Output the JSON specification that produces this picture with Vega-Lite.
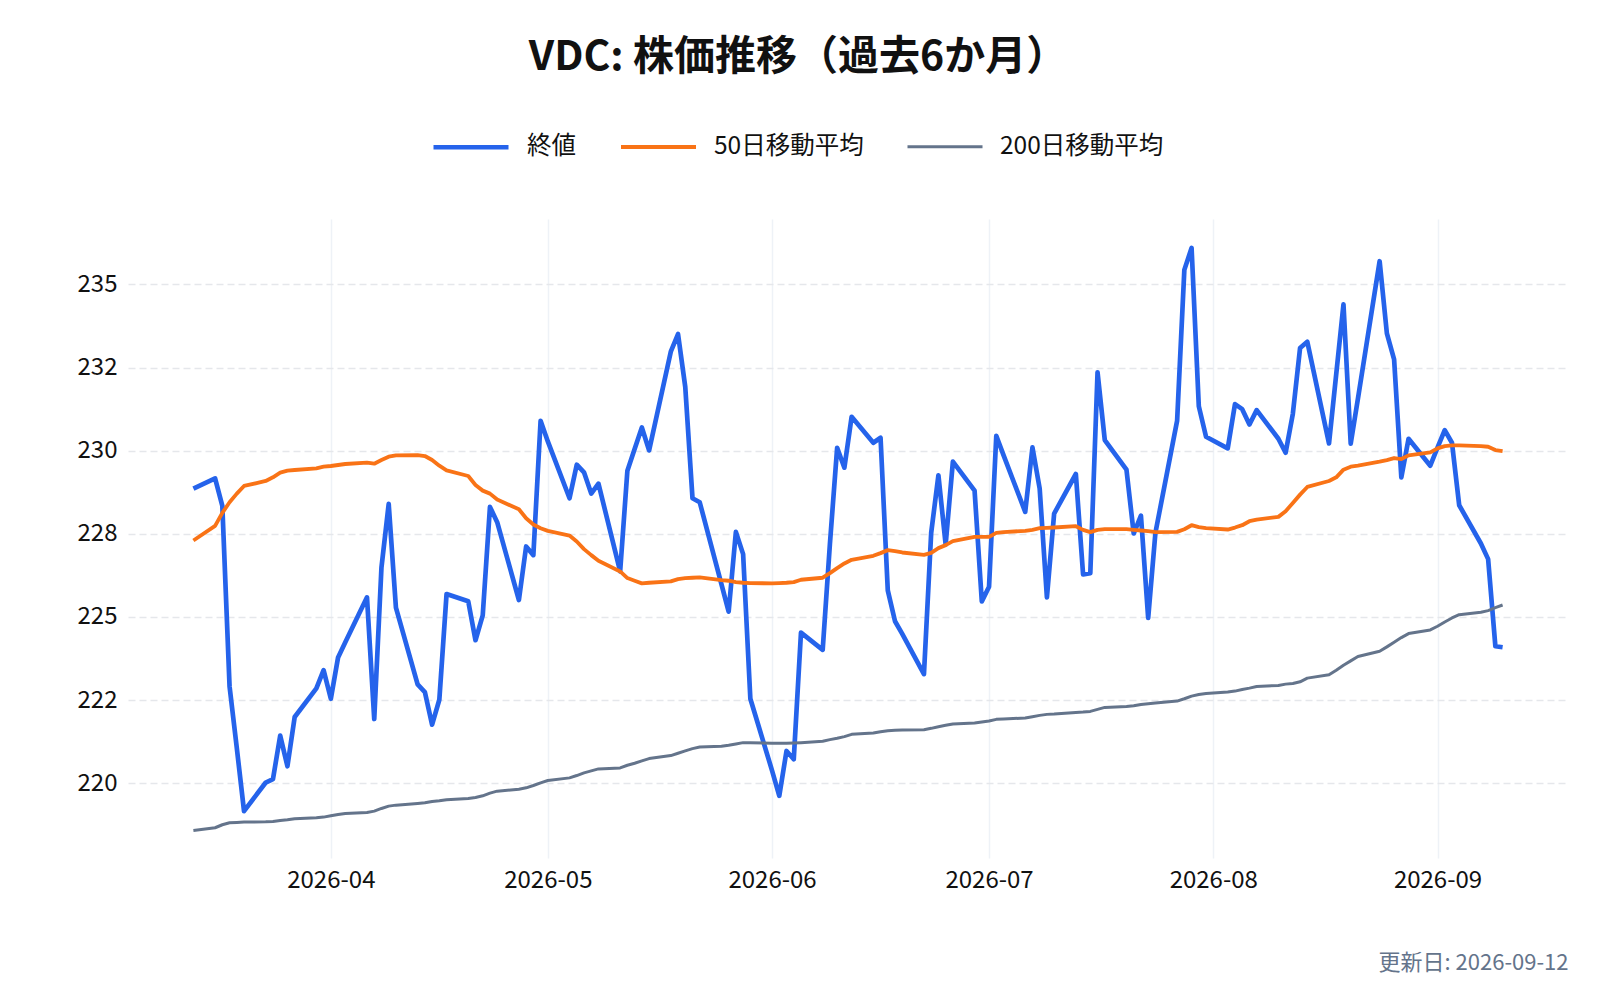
{
  "$schema": "https://vega.github.io/schema/vega-lite/v6.json",
  "width": 1440,
  "height": 639,
  "autosize": {"type": "none"},
  "padding": {"left": 128, "top": 219, "right": 32, "bottom": 142},
  "background": "white",
  "config": {
    "font": "Noto Sans CJK JP",
    "view": {"stroke": null}
  },
  "title": {
    "text": "VDC: 株価推移（過去6か月）",
    "fontSize": 41,
    "fontWeight": "bold",
    "color": "#111111",
    "anchor": "middle",
    "offset": 28,
    "dx": -50
  },
  "data": {
    "values": [
      {"date": "2026-03-13", "終値": 228.86, "50日移動平均": 227.30, "200日移動平均": 218.58},
      {"date": "2026-03-16", "終値": 229.17, "50日移動平均": 227.74, "200日移動平均": 218.66},
      {"date": "2026-03-17", "終値": 228.34, "50日移動平均": 228.13, "200日移動平均": 218.75},
      {"date": "2026-03-18", "終値": 222.91, "50日移動平均": 228.45, "200日移動平均": 218.81},
      {"date": "2026-03-19", "終値": 221.06, "50日移動平均": 228.71, "200日移動平均": 218.82},
      {"date": "2026-03-20", "終値": 219.16, "50日移動平均": 228.94, "200日移動平均": 218.83},
      {"date": "2026-03-23", "終値": 220.02, "50日移動平均": 229.09, "200日移動平均": 218.84},
      {"date": "2026-03-24", "終値": 220.12, "50日移動平均": 229.20, "200日移動平均": 218.85},
      {"date": "2026-03-25", "終値": 221.43, "50日移動平均": 229.34, "200日移動平均": 218.88},
      {"date": "2026-03-26", "終値": 220.51, "50日移動平均": 229.40, "200日移動平均": 218.90},
      {"date": "2026-03-27", "終値": 221.99, "50日移動平均": 229.42, "200日移動平均": 218.93},
      {"date": "2026-03-30", "終値": 222.85, "50日移動平均": 229.47, "200日移動平均": 218.96},
      {"date": "2026-03-31", "終値": 223.40, "50日移動平均": 229.52, "200日移動平均": 218.98},
      {"date": "2026-04-01", "終値": 222.54, "50日移動平均": 229.54, "200日移動平均": 219.02},
      {"date": "2026-04-02", "終値": 223.78, "50日移動平均": 229.57, "200日移動平均": 219.06},
      {"date": "2026-04-03", "終値": 224.24, "50日移動平均": 229.60, "200日移動平均": 219.09},
      {"date": "2026-04-06", "終値": 225.59, "50日移動平均": 229.64, "200日移動平均": 219.12},
      {"date": "2026-04-07", "終値": 221.93, "50日移動平均": 229.61, "200日移動平均": 219.16},
      {"date": "2026-04-08", "終値": 226.49, "50日移動平均": 229.72, "200日移動平均": 219.24},
      {"date": "2026-04-09", "終値": 228.40, "50日移動平均": 229.82, "200日移動平均": 219.31},
      {"date": "2026-04-10", "終値": 225.28, "50日移動平均": 229.86, "200日移動平均": 219.34},
      {"date": "2026-04-13", "終値": 222.97, "50日移動平均": 229.87, "200日移動平均": 219.39},
      {"date": "2026-04-14", "終値": 222.74, "50日移動平均": 229.84, "200日移動平均": 219.41},
      {"date": "2026-04-15", "終値": 221.76, "50日移動平均": 229.72, "200日移動平均": 219.45},
      {"date": "2026-04-16", "終値": 222.51, "50日移動平均": 229.55, "200日移動平均": 219.47},
      {"date": "2026-04-17", "終値": 225.69, "50日移動平均": 229.41, "200日移動平均": 219.50},
      {"date": "2026-04-20", "終値": 225.47, "50日移動平均": 229.24, "200日移動平均": 219.54},
      {"date": "2026-04-21", "終値": 224.30, "50日移動平均": 228.97, "200日移動平均": 219.57},
      {"date": "2026-04-22", "終値": 225.05, "50日移動平均": 228.80, "200日移動平均": 219.62},
      {"date": "2026-04-23", "終値": 228.31, "50日移動平均": 228.71, "200日移動平均": 219.70},
      {"date": "2026-04-24", "終値": 227.85, "50日移動平均": 228.53, "200日移動平均": 219.76},
      {"date": "2026-04-27", "終値": 225.51, "50日移動平均": 228.24, "200日移動平均": 219.82},
      {"date": "2026-04-28", "終値": 227.12, "50日移動平均": 227.97, "200日移動平均": 219.86},
      {"date": "2026-04-29", "終値": 226.86, "50日移動平均": 227.78, "200日移動平均": 219.93},
      {"date": "2026-04-30", "終値": 230.90, "50日移動平均": 227.67, "200日移動平均": 220.01},
      {"date": "2026-05-01", "終値": 230.28, "50日移動平均": 227.59, "200日移動平均": 220.08},
      {"date": "2026-05-04", "終値": 228.57, "50日移動平均": 227.45, "200日移動平均": 220.16},
      {"date": "2026-05-05", "終値": 229.58, "50日移動平均": 227.27, "200日移動平均": 220.23},
      {"date": "2026-05-06", "終値": 229.35, "50日移動平均": 227.04, "200日移動平均": 220.31},
      {"date": "2026-05-07", "終値": 228.71, "50日移動平均": 226.86, "200日移動平均": 220.37},
      {"date": "2026-05-08", "終値": 229.01, "50日移動平均": 226.69, "200日移動平均": 220.43},
      {"date": "2026-05-11", "終値": 226.37, "50日移動平均": 226.37, "200日移動平均": 220.46},
      {"date": "2026-05-12", "終値": 229.40, "50日移動平均": 226.17, "200日移動平均": 220.54},
      {"date": "2026-05-13", "終値": 230.05, "50日移動平均": 226.09, "200日移動平均": 220.60},
      {"date": "2026-05-14", "終値": 230.70, "50日移動平均": 226.01, "200日移動平均": 220.67},
      {"date": "2026-05-15", "終値": 230.01, "50日移動平均": 226.03, "200日移動平均": 220.74},
      {"date": "2026-05-18", "終値": 232.98, "50日移動平均": 226.07, "200日移動平均": 220.83},
      {"date": "2026-05-19", "終値": 233.51, "50日移動平均": 226.14, "200日移動平均": 220.90},
      {"date": "2026-05-20", "終値": 231.92, "50日移動平均": 226.17, "200日移動平均": 220.97},
      {"date": "2026-05-21", "終値": 228.57, "50日移動平均": 226.18, "200日移動平均": 221.04},
      {"date": "2026-05-22", "終値": 228.45, "50日移動平均": 226.19, "200日移動平均": 221.09},
      {"date": "2026-05-25", "終値": 225.99, "50日移動平均": 226.11, "200日移動平均": 221.11},
      {"date": "2026-05-26", "終値": 225.16, "50日移動平均": 226.09, "200日移動平均": 221.14},
      {"date": "2026-05-27", "終値": 227.56, "50日移動平均": 226.05, "200日移動平均": 221.18},
      {"date": "2026-05-28", "終値": 226.89, "50日移動平均": 226.03, "200日移動平均": 221.22},
      {"date": "2026-05-29", "終値": 222.54, "50日移動平均": 226.02, "200日移動平均": 221.22},
      {"date": "2026-06-01", "終値": 220.38, "50日移動平均": 226.01, "200日移動平均": 221.20},
      {"date": "2026-06-02", "終値": 219.62, "50日移動平均": 226.02, "200日移動平均": 221.20},
      {"date": "2026-06-03", "終値": 220.97, "50日移動平均": 226.03, "200日移動平均": 221.20},
      {"date": "2026-06-04", "終値": 220.72, "50日移動平均": 226.05, "200日移動平均": 221.21},
      {"date": "2026-06-05", "終値": 224.53, "50日移動平均": 226.12, "200日移動平均": 221.22},
      {"date": "2026-06-08", "終値": 224.01, "50日移動平均": 226.18, "200日移動平均": 221.26},
      {"date": "2026-06-09", "終値": 227.20, "50日移動平均": 226.32, "200日移動平均": 221.31},
      {"date": "2026-06-10", "終値": 230.09, "50日移動平均": 226.47, "200日移動平均": 221.35},
      {"date": "2026-06-11", "終値": 229.49, "50日移動平均": 226.61, "200日移動平均": 221.40},
      {"date": "2026-06-12", "終値": 231.02, "50日移動平均": 226.72, "200日移動平均": 221.47},
      {"date": "2026-06-15", "終値": 230.24, "50日移動平均": 226.84, "200日移動平均": 221.51},
      {"date": "2026-06-16", "終値": 230.39, "50日移動平均": 226.92, "200日移動平均": 221.55},
      {"date": "2026-06-17", "終値": 225.80, "50日移動平均": 227.01, "200日移動平均": 221.58},
      {"date": "2026-06-18", "終値": 224.87, "50日移動平均": 226.98, "200日移動平均": 221.59},
      {"date": "2026-06-19", "終値": 224.49, "50日移動平均": 226.94, "200日移動平均": 221.60},
      {"date": "2026-06-22", "終値": 223.28, "50日移動平均": 226.87, "200日移動平均": 221.61},
      {"date": "2026-06-23", "終値": 227.53, "50日移動平均": 226.93, "200日移動平均": 221.65},
      {"date": "2026-06-24", "終値": 229.26, "50日移動平均": 227.07, "200日移動平均": 221.70},
      {"date": "2026-06-25", "終値": 227.18, "50日移動平均": 227.16, "200日移動平均": 221.74},
      {"date": "2026-06-26", "終値": 229.67, "50日移動平均": 227.28, "200日移動平均": 221.78},
      {"date": "2026-06-29", "終値": 228.80, "50日移動平均": 227.41, "200日移動平均": 221.81},
      {"date": "2026-06-30", "終値": 225.47, "50日移動平均": 227.41, "200日移動平均": 221.84},
      {"date": "2026-07-01", "終値": 225.91, "50日移動平均": 227.41, "200日移動平均": 221.87},
      {"date": "2026-07-02", "終値": 230.45, "50日移動平均": 227.53, "200日移動平均": 221.92},
      {"date": "2026-07-03", "終値": 229.87, "50日移動平均": 227.55, "200日移動平均": 221.93},
      {"date": "2026-07-06", "終値": 228.16, "50日移動平均": 227.59, "200日移動平均": 221.96},
      {"date": "2026-07-07", "終値": 230.10, "50日移動平均": 227.62, "200日移動平均": 222.00},
      {"date": "2026-07-08", "終値": 228.86, "50日移動平均": 227.67, "200日移動平均": 222.04},
      {"date": "2026-07-09", "終値": 225.59, "50日移動平均": 227.68, "200日移動平均": 222.07},
      {"date": "2026-07-10", "終値": 228.11, "50日移動平均": 227.69, "200日移動平均": 222.08},
      {"date": "2026-07-13", "終値": 229.30, "50日移動平均": 227.73, "200日移動平均": 222.13},
      {"date": "2026-07-14", "終値": 226.28, "50日移動平均": 227.62, "200日移動平均": 222.14},
      {"date": "2026-07-15", "終値": 226.32, "50日移動平均": 227.55, "200日移動平均": 222.16},
      {"date": "2026-07-16", "終値": 232.36, "50日移動平均": 227.62, "200日移動平均": 222.22},
      {"date": "2026-07-17", "終値": 230.32, "50日移動平均": 227.64, "200日移動平均": 222.28},
      {"date": "2026-07-20", "終値": 229.43, "50日移動平均": 227.64, "200日移動平均": 222.31},
      {"date": "2026-07-21", "終値": 227.51, "50日移動平均": 227.62, "200日移動平均": 222.33},
      {"date": "2026-07-22", "終値": 228.05, "50日移動平均": 227.60, "200日移動平均": 222.37},
      {"date": "2026-07-23", "終値": 224.97, "50日移動平均": 227.58, "200日移動平均": 222.39},
      {"date": "2026-07-24", "終値": 227.53, "50日移動平均": 227.55, "200日移動平均": 222.41},
      {"date": "2026-07-27", "終値": 230.90, "50日移動平均": 227.56, "200日移動平均": 222.47},
      {"date": "2026-07-28", "終値": 235.44, "50日移動平均": 227.64, "200日移動平均": 222.54},
      {"date": "2026-07-29", "終値": 236.10, "50日移動平均": 227.76, "200日移動平均": 222.62},
      {"date": "2026-07-30", "終値": 231.34, "50日移動平均": 227.70, "200日移動平均": 222.67},
      {"date": "2026-07-31", "終値": 230.42, "50日移動平均": 227.67, "200日移動平均": 222.70},
      {"date": "2026-08-03", "終値": 230.07, "50日移動平均": 227.63, "200日移動平均": 222.74},
      {"date": "2026-08-04", "終値": 231.40, "50日移動平均": 227.69, "200日移動平均": 222.77},
      {"date": "2026-08-05", "終値": 231.25, "50日移動平均": 227.76, "200日移動平均": 222.82},
      {"date": "2026-08-06", "終値": 230.79, "50日移動平均": 227.88, "200日移動平均": 222.86},
      {"date": "2026-08-07", "終値": 231.22, "50日移動平均": 227.93, "200日移動平均": 222.91},
      {"date": "2026-08-10", "終値": 230.36, "50日移動平均": 228.01, "200日移動平均": 222.94},
      {"date": "2026-08-11", "終値": 229.94, "50日移動平均": 228.18, "200日移動平均": 222.98},
      {"date": "2026-08-12", "終値": 231.11, "50日移動平均": 228.43, "200日移動平均": 223.00},
      {"date": "2026-08-13", "終値": 233.09, "50日移動平均": 228.68, "200日移動平均": 223.05},
      {"date": "2026-08-14", "終値": 233.28, "50日移動平均": 228.91, "200日移動平均": 223.16},
      {"date": "2026-08-17", "終値": 230.22, "50日移動平均": 229.09, "200日移動平均": 223.26},
      {"date": "2026-08-18", "終値": 232.31, "50日移動平均": 229.20, "200日移動平均": 223.40},
      {"date": "2026-08-19", "終値": 234.40, "50日移動平均": 229.43, "200日移動平均": 223.55},
      {"date": "2026-08-20", "終値": 230.21, "50日移動平均": 229.52, "200日移動平均": 223.68},
      {"date": "2026-08-21", "終値": 231.57, "50日移動平均": 229.55, "200日移動平均": 223.81},
      {"date": "2026-08-24", "終値": 235.70, "50日移動平均": 229.67, "200日移動平均": 223.97},
      {"date": "2026-08-25", "終値": 233.53, "50日移動平均": 229.72, "200日移動平均": 224.10},
      {"date": "2026-08-26", "終値": 232.75, "50日移動平均": 229.78, "200日移動平均": 224.24},
      {"date": "2026-08-27", "終値": 229.20, "50日移動平均": 229.75, "200日移動平均": 224.38},
      {"date": "2026-08-28", "終値": 230.36, "50日移動平均": 229.86, "200日移動平均": 224.50},
      {"date": "2026-08-31", "終値": 229.55, "50日移動平均": 229.95, "200日移動平均": 224.61},
      {"date": "2026-09-01", "終値": 230.09, "50日移動平均": 230.07, "200日移動平均": 224.72},
      {"date": "2026-09-02", "終値": 230.62, "50日移動平均": 230.14, "200日移動平均": 224.85},
      {"date": "2026-09-03", "終値": 230.24, "50日移動平均": 230.16, "200日移動平均": 224.97},
      {"date": "2026-09-04", "終値": 228.36, "50日移動平均": 230.16, "200日移動平均": 225.07},
      {"date": "2026-09-07", "終値": 227.21, "50日移動平均": 230.14, "200日移動平均": 225.14},
      {"date": "2026-09-08", "終値": 226.74, "50日移動平均": 230.12, "200日移動平均": 225.19},
      {"date": "2026-09-09", "終値": 224.12, "50日移動平均": 230.02, "200日移動平均": 225.28},
      {"date": "2026-09-10", "終値": 224.09, "50日移動平均": 229.99, "200日移動平均": 225.36}
    ]
  },
  "transform": [
    {"fold": ["終値", "50日移動平均", "200日移動平均"], "as": ["series", "price"]}
  ],
  "mark": {"type": "line", "strokeJoin": "round"},
  "encoding": {
    "x": {
      "field": "date",
      "type": "temporal",
      "scale": {
        "type": "utc",
        "domain": [
          {"year": 2026, "month": 3, "date": 3, "hours": 23, "utc": true},
          {"year": 2026, "month": 9, "date": 19, "hours": 1, "utc": true}
        ]
      },
      "axis": {
        "values": [
          {"year": 2026, "month": 4, "date": 1, "utc": true},
          {"year": 2026, "month": 5, "date": 1, "utc": true},
          {"year": 2026, "month": 6, "date": 1, "utc": true},
          {"year": 2026, "month": 7, "date": 1, "utc": true},
          {"year": 2026, "month": 8, "date": 1, "utc": true},
          {"year": 2026, "month": 9, "date": 1, "utc": true}
        ],
        "format": "%Y-%m",
        "labelFontSize": 24,
        "labelColor": "#111111",
        "labelPadding": 10,
        "labelAngle": 0,
        "domain": false,
        "ticks": false,
        "grid": true,
        "gridColor": "#eef2f7",
        "gridWidth": 1.5,
        "title": "更新日: 2026-09-12",
        "titleAnchor": "end",
        "titleAlign": "right",
        "titleFontSize": 22,
        "titleFontWeight": "normal",
        "titleColor": "#64748b",
        "titlePadding": 60
      }
    },
    "y": {
      "field": "price",
      "type": "quantitative",
      "scale": {"domain": [217.75, 236.97], "zero": false, "nice": false},
      "axis": {
        "values": [220, 222.5, 225, 227.5, 230, 232.5, 235],
        "labelExpr": "datum.value % 5 == 2.5 ? (floor(datum.value) % 2 == 0 ? floor(datum.value) : ceil(datum.value)) : datum.value",
        "labelFontSize": 24,
        "labelColor": "#111111",
        "labelPadding": 11,
        "domain": false,
        "ticks": false,
        "grid": true,
        "gridColor": "#e5e7eb",
        "gridWidth": 1.5,
        "gridDash": [7, 4],
        "title": null
      }
    },
    "color": {
      "field": "series",
      "type": "nominal",
      "sort": ["終値", "50日移動平均", "200日移動平均"],
      "scale": {
        "domain": ["終値", "50日移動平均", "200日移動平均"],
        "range": ["#2563eb", "#f97316", "#64748b"]
      },
      "legend": {
        "title": null,
        "orient": "none",
        "direction": "horizontal",
        "legendX": 303,
        "legendY": -112,
        "labelFontSize": 24.5,
        "labelLimit": 400,
        "labelColor": "#111111",
        "symbolType": "stroke",
        "symbolSize": 5625,
        "labelOffset": 16,
        "columnPadding": 37,
        "padding": 0
      }
    },
    "strokeWidth": {
      "field": "series",
      "type": "nominal",
      "sort": ["終値", "50日移動平均", "200日移動平均"],
      "scale": {
        "domain": ["終値", "50日移動平均", "200日移動平均"],
        "range": [4.7, 3, 3]
      }
    }
  }
}
